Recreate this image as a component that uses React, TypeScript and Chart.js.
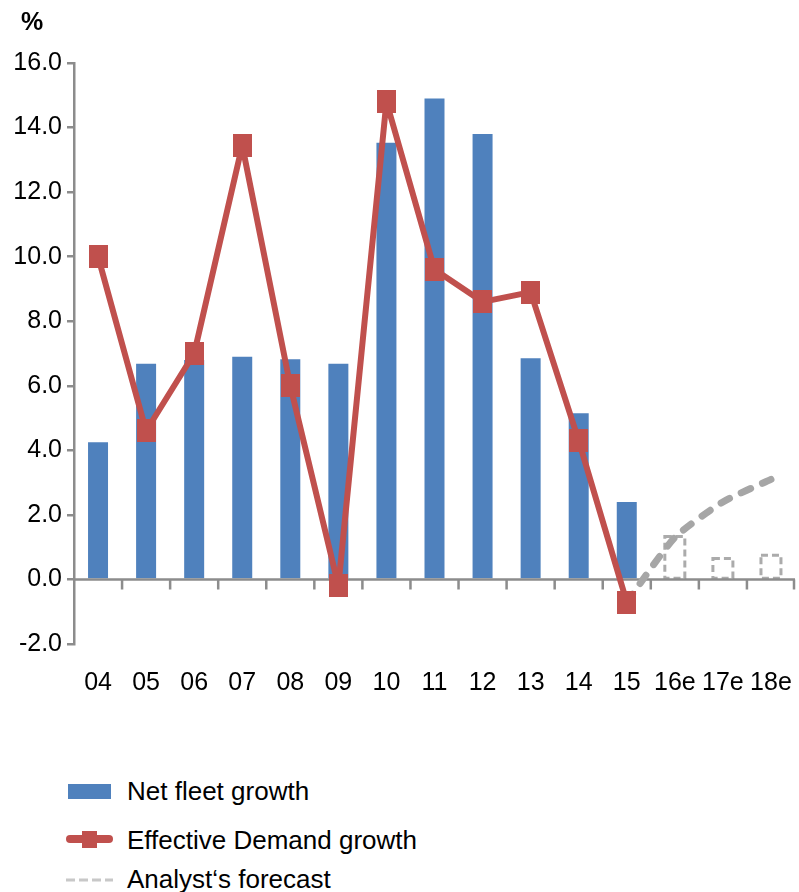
import React, { useEffect, useRef } from "react";
import { Chart, registerables } from "chart.js";

Chart.register(...registerables);

// ---- Data ----
const categories = ["04", "05", "06", "07", "08", "09", "10", "11", "12", "13", "14", "15", "16e", "17e", "18e"];
const netFleetGrowth = [4.25, 6.68, 6.8, 6.9, 6.82, 6.68, 13.53, 14.9, 13.8, 6.85, 5.15, 2.4];
const forecastFleetGrowth = [1.33, 0.65, 0.75]; // 16e, 17e, 18e
const effectiveDemandGrowth = [10.0, 4.6, 7.0, 13.45, 6.0, -0.2, 14.8, 9.6, 8.6, 8.9, 4.3, -0.7];
const forecastDemandGrowth = [-0.7, 1.3, 2.4, 3.1]; // 15, 16e, 17e, 18e
const yMin = -2;
const yMax = 16;
const yStep = 2;

const legendLabels = ["Net fleet growth", "Effective Demand growth", "Analyst\u2018s forecast"];

// ---- Styles ----
const BLUE = "#4F81BD";
const RED = "#C0504D";
const FORECAST_GRAY = "#A6A6A6";
const FORECAST_BAR_GRAY = "#ABABAB";
const AXIS_COLOR = "#8C8C8C";
const FONT = "'Liberation Sans', Arial, sans-serif";

function makeMarker(w: number, h: number, color: string) {
  const c = document.createElement("canvas");
  c.width = w;
  c.height = h;
  const g = c.getContext("2d")!;
  g.fillStyle = color;
  g.fillRect(0, 0, w, h);
  return c;
}

const axisAndForecastPlugin = {
  id: "axisAndForecast",
  afterDatasetDraw(chart: any, args: any) {
    if (args.index !== 1) return;
    const { ctx, chartArea, scales } = chart;
    const x = scales.x;
    const y = scales.y;
    ctx.save();
    // dashed outlines for forecast bars
    const meta = chart.getDatasetMeta(1);
    ctx.strokeStyle = FORECAST_BAR_GRAY;
    ctx.lineWidth = 3;
    ctx.setLineDash([7, 4]);
    meta.data.forEach((el: any, i: number) => {
      const v = chart.data.datasets[1].data[i];
      if (v === null || v === undefined) return;
      const p = el.getProps(["x", "y", "base", "width"], true);
      ctx.strokeRect(p.x - p.width / 2, p.y, p.width, p.base - p.y);
    });
    ctx.setLineDash([]);
    // zero axis line with tick marks at category boundaries
    const y0 = y.getPixelForValue(0);
    ctx.strokeStyle = AXIS_COLOR;
    ctx.lineWidth = 2.5;
    ctx.beginPath();
    ctx.moveTo(chartArea.left, y0);
    ctx.lineTo(chartArea.right, y0);
    const n = categories.length;
    for (let i = 1; i <= n; i++) {
      const px = i < n ? (x.getPixelForValue(i - 1) + x.getPixelForValue(i)) / 2 : chartArea.right - 1;
      ctx.moveTo(px, y0);
      ctx.lineTo(px, y0 + 10);
    }
    ctx.stroke();
    ctx.restore();
  },
};

export default function App() {
  const ref = useRef<HTMLCanvasElement | null>(null);

  useEffect(() => {
    if (!ref.current) return;
    const nPad = (k: number) => Array(k).fill(null);
    const marker = makeMarker(19, 23, RED);
    const chart = new Chart(ref.current, {
      type: "bar",
      data: {
        labels: categories,
        datasets: [
          {
            type: "bar",
            label: legendLabels[0],
            data: [...netFleetGrowth, ...nPad(categories.length - netFleetGrowth.length)],
            backgroundColor: BLUE,
            barPercentage: 0.416,
            categoryPercentage: 1,
            grouped: false,
            order: 4,
          } as any,
          {
            type: "bar",
            label: "Forecast fleet growth",
            data: [...nPad(netFleetGrowth.length), ...forecastFleetGrowth],
            backgroundColor: "rgba(0,0,0,0)",
            barPercentage: 0.416,
            categoryPercentage: 1,
            grouped: false,
            order: 3,
          } as any,
          {
            type: "line",
            label: legendLabels[2],
            data: [...nPad(effectiveDemandGrowth.length - 1), ...forecastDemandGrowth],
            borderColor: FORECAST_GRAY,
            borderWidth: 7,
            borderDash: [10, 13],
            borderCapStyle: "round",
            pointRadius: 0,
            tension: 0.2,
            order: 2,
          } as any,
          {
            type: "line",
            label: legendLabels[1],
            data: [...effectiveDemandGrowth, ...nPad(categories.length - effectiveDemandGrowth.length)],
            borderColor: RED,
            backgroundColor: RED,
            borderWidth: 6,
            borderJoinStyle: "round",
            pointStyle: marker,
            pointRadius: 11,
            tension: 0,
            order: 1,
          } as any,
        ],
      },
      options: {
        responsive: false,
        animation: false,
        layout: { autoPadding: false, padding: { top: 63, right: 4, bottom: 24, left: 0 } },
        plugins: {
          legend: { display: false },
          tooltip: { enabled: false },
          title: { display: false },
        },
        scales: {
          x: {
            offset: true,
            grid: { display: false, drawTicks: false },
            border: { display: false },
            ticks: {
              color: "#000",
              font: { family: FONT, size: 25 },
              padding: 24,
              maxRotation: 0,
              minRotation: 0,
              autoSkip: false,
            },
            afterFit: (s: any) => {
              s.height = 52;
              s.paddingLeft = 0;
              s.paddingRight = 0;
            },
          },
          y: {
            min: yMin,
            max: yMax,
            ticks: {
              stepSize: yStep,
              color: "#000",
              font: { family: FONT, size: 25 },
              padding: 5,
              callback: (v: any) => Number(v).toFixed(1),
            },
            grid: { drawOnChartArea: false, drawTicks: true, tickLength: 7, color: AXIS_COLOR, lineWidth: 2.5 },
            border: { color: AXIS_COLOR, width: 2.5 },
            afterFit: (s: any) => {
              s.width = 74;
              s.paddingTop = 0;
              s.paddingBottom = 0;
            },
          },
        },
      } as any,
      plugins: [axisAndForecastPlugin],
    });
    return () => chart.destroy();
  }, []);

  const textStyle: React.CSSProperties = {
    position: "absolute",
    left: 127,
    fontFamily: FONT,
    fontSize: 26,
    lineHeight: "26px",
    color: "#000",
    whiteSpace: "nowrap",
  };

  return (
    <div style={{ position: "absolute", left: 0, top: 0, width: 799, height: 892, background: "#fff" }}>
      <canvas ref={ref} width={799} height={720} style={{ position: "absolute", left: 0, top: 0 }} />
      <div
        style={{
          position: "absolute",
          left: 21,
          top: 9,
          fontFamily: FONT,
          fontSize: 25,
          lineHeight: "25px",
          fontWeight: "bold",
          color: "#000",
        }}
      >
        %
      </div>
      {/* Legend */}
      <div style={{ position: "absolute", left: 68, top: 784, width: 43, height: 15, background: BLUE }} />
      <div style={{ ...textStyle, top: 778 }}>{legendLabels[0]}</div>
      <div style={{ position: "absolute", left: 66, top: 835, width: 47, height: 8, borderRadius: 4, background: RED }} />
      <div style={{ position: "absolute", left: 82, top: 831, width: 15, height: 17, background: RED }} />
      <div style={{ ...textStyle, top: 827 }}>{legendLabels[1]}</div>
      <svg style={{ position: "absolute", left: 66, top: 876 }} width={48} height={8}>
        <line x1={0} y1={4} x2={47} y2={4} stroke="#C8C8C8" strokeWidth={3} strokeDasharray="9 4" />
      </svg>
      <div style={{ ...textStyle, top: 866 }}>{legendLabels[2]}</div>
    </div>
  );
}
